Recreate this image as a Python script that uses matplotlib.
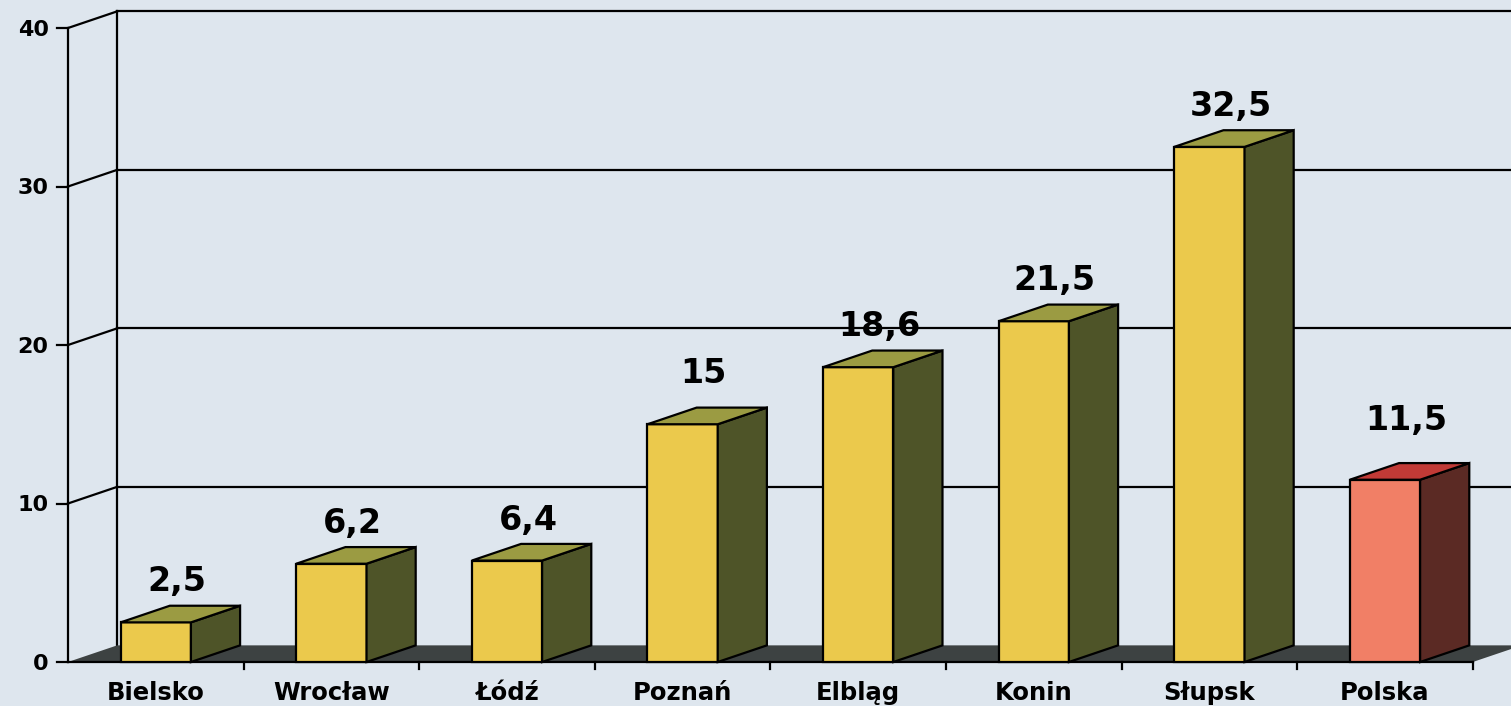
import matplotlib
matplotlib.use("Agg")
import matplotlib.pyplot as plt
from matplotlib.patches import Polygon

# ---- data ----
categories = ["Bielsko", "Wrocław", "Łódź", "Poznań", "Elbląg", "Konin", "Słupsk", "Polska"]
values = [2.5, 6.2, 6.4, 15, 18.6, 21.5, 32.5, 11.5]
y_ticks = [0, 10, 20, 30, 40]
y_tick_labels = ["0", "10", "20", "30", "40"]
highlight = "Polska"

# ---- style ----
BG = "#dee6ee"
FLOOR = "#3d4242"
FRONT, SIDE, TOP = "#ebc94c", "#4e5428", "#9b9b42"
HFRONT, HSIDE, HTOP = "#f17f66", "#5b2a24", "#c13a36"
LW = 1.6
FONT = "DejaVu Sans"
label_lift_px = [0, 0, 0, 10, 0, 0, 0, 19]   # extra lift of value labels (pixels)

W, H, DPI = 1511, 706, 100
fig = plt.figure(figsize=(W / DPI, H / DPI), dpi=DPI, facecolor=BG)
ax = fig.add_axes([0, 0, 1, 1])
ax.set_facecolor(BG)
ax.axis("off")

# pixel mapping: x = 0 at px 68, 175.6 px per category; y = 0 at px 662 (from top), 15.85 px per unit
PX_X, X0 = 175.6, 68
PX_Y, Y0 = 15.85, 662
ax.set_xlim(-X0 / PX_X, (W - X0) / PX_X)
ax.set_ylim(-(H - Y0) / PX_Y, Y0 / PX_Y)

n = len(categories)
ymax = y_ticks[-1]
dx, dy = 0.28, 1.05   # depth offset in data units
bw = 0.4              # bar front width

# back wall gridlines
xr = (W - X0) / PX_X + 1
for v in y_ticks[1:]:
    ax.plot([dx, xr], [v + dy, v + dy], color="black", lw=LW, zorder=1)
# back wall left edge
ax.plot([dx, dx], [dy, ymax + dy], color="black", lw=LW, zorder=1)
# left wall diagonals
for v in y_ticks[1:]:
    ax.plot([0, dx], [v, v + dy], color="black", lw=LW, zorder=1)
# front axis line
ax.plot([0, 0], [0, ymax], color="black", lw=LW, zorder=3)
# y ticks and labels
for v, lab in zip(y_ticks, y_tick_labels):
    ax.plot([-0.063, 0], [v, v], color="black", lw=LW, zorder=3)
    ax.text(-0.11, v - 0.5, lab, ha="right", va="baseline", fontsize=16,
            fontweight="bold", family=FONT, zorder=4)

# floor
floor = Polygon([(0, 0), (n, 0), (n + dx, dy), (dx, dy)], closed=True,
                facecolor=FLOOR, edgecolor="none", zorder=2)
ax.add_patch(floor)
ax.plot([0, n], [0, 0], color="black", lw=LW, zorder=3)
# category ticks
for i in range(1, n + 1):
    ax.plot([i, i], [0, -0.45], color="black", lw=LW, zorder=3)

# bars
xs = [i + 0.5 for i in range(n)]
for x, v, cat, lift in zip(xs, values, categories, label_lift_px):
    hl = cat == highlight
    fc, sc, tc = (HFRONT, HSIDE, HTOP) if hl else (FRONT, SIDE, TOP)
    x0, x1 = x - bw / 2, x + bw / 2
    ax.bar(x, v, width=bw, bottom=0, color=fc, edgecolor="black", linewidth=LW, zorder=5)
    side = Polygon([(x1, 0), (x1 + dx, dy), (x1 + dx, v + dy), (x1, v)], closed=True,
                   facecolor=sc, edgecolor="black", linewidth=LW, zorder=5)
    top = Polygon([(x0, v), (x1, v), (x1 + dx, v + dy), (x0 + dx, v + dy)], closed=True,
                  facecolor=tc, edgecolor="black", linewidth=LW, zorder=5)
    ax.add_patch(side)
    ax.add_patch(top)
    lab = f"{v:g}".replace(".", ",")
    ax.text(x + 0.12, v + dy + 0.9 + lift / PX_Y, lab, ha="center", va="baseline",
            fontsize=24, fontweight="bold", family=FONT, zorder=6)
    ax.text(x, -2.4, cat, ha="center", va="baseline", fontsize=17.5,
            fontweight="bold", family=FONT, zorder=6)

fig.savefig("out.png", dpi=DPI, facecolor=BG)
